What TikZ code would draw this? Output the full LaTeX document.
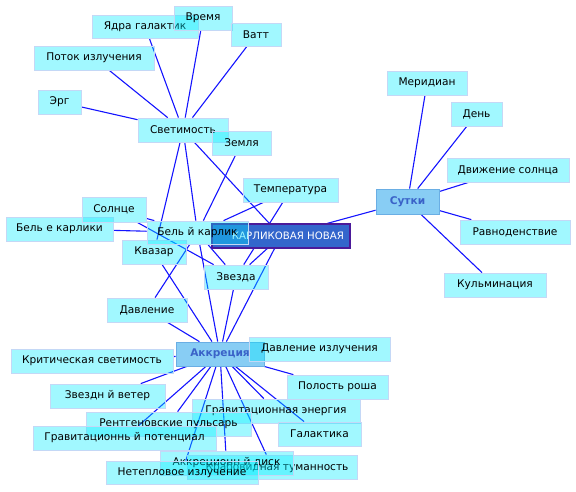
\documentclass[tikz,border=0pt]{standalone}
\usepackage{fontspec}
\setmainfont{DejaVu Sans}
\usetikzlibrary{backgrounds}
\definecolor{lineblue}{HTML}{1414FF}
\definecolor{bxfill}{HTML}{00ECFF}
\definecolor{bxborder}{HTML}{C4D8F6}
\definecolor{hubfill}{HTML}{88CDF4}
\definecolor{hubborder}{HTML}{6AAEE4}
\definecolor{hubtext}{HTML}{3A62C8}
\definecolor{knfill}{HTML}{3366CC}
\definecolor{knborder}{HTML}{4B1A9A}
\begin{document}
\begin{tikzpicture}[x=1pt,y=-1pt,
  sz/.style 2 args={minimum width=#1pt,minimum height=#2pt},
  bx/.style={draw=bxborder,line width=0.8pt,fill=bxfill,fill opacity=0.37,text opacity=1,inner sep=0pt,font=\fontsize{10.6}{12}\selectfont,text=black},
  hub/.style={draw=hubborder,line width=0.8pt,fill=hubfill,inner sep=0pt,font=\fontsize{10.6}{12}\selectfont\bfseries,text=hubtext},
  kn/.style={draw=knborder,line width=1.2pt,fill=knfill,inner sep=0pt,font=\fontsize{10.2}{12}\selectfont,text=white},
  edge/.style={draw=lineblue,line width=1.1pt}]
\useasboundingbox (0,0) rectangle (576,491);
% nodes (drawing order matters for overlaps)
\node[bx,sz={106}{23}] (yadra) at (145,26.5) {Ядра галактик};
\node[bx,sz={58}{24}] (vremya) at (203,18) {Время};
\node[bx,sz={50}{23}] (vatt) at (256,34.5) {Ватт};
\node[bx,sz={120}{24}] (potok) at (94,58) {Поток излучения};
\node[bx,sz={43}{24}] (erg) at (59.5,102) {Эрг};
\node[bx,sz={90}{24}] (svet) at (183,130) {Светимость};
\node[bx,sz={59}{24}] (zemlya) at (241.5,143) {Земля};
\node[bx,sz={80}{24}] (merid) at (427,83) {Меридиан};
\node[bx,sz={51}{24}] (den) at (476.5,114) {День};
\node[bx,sz={122}{24}] (dvizh) at (508,170) {Движение солнца};
\node[hub,sz={63}{25}] (sutki) at (407.5,201.5) {Сутки};
\node[bx,sz={110}{24}] (ravno) at (515,232) {Равноденствие};
\node[bx,sz={102}{24}] (kulm) at (495,285) {Кульминация};
\node[bx,sz={95}{24}] (temp) at (290.5,190) {Температура};
\node[bx,sz={107}{24}] (belk) at (59.5,229) {Бель е карлики};
\node[bx,sz={64}{25}] (solnce) at (114,209.5) {Солнце};
\node[kn,sz={138}{24}] (kn) at (281,236) {\hspace*{14pt}КАРЛИКОВАЯ НОВАЯ};
\node[bx,sz={64}{24}] (kvazar) at (154,252) {Квазар};
\node[bx,sz={101}{23}] (bel) at (197.5,232.5) {Бель й карлик};
\node[bx,sz={64}{24}] (zvezda) at (236,277) {Звезда};
\node[bx,sz={80}{24}] (davl) at (147,310) {Давление};
\node[hub,sz={88}{24}] (akkr) at (220,354) {Аккреция};
\node[bx,sz={141}{24}] (davlizl) at (319.5,349) {Давление излучения};
\node[bx,sz={162}{24}] (krit) at (92,361) {Критическая светимость};
\node[bx,sz={101}{24}] (rosh) at (337.5,387) {Полость роша};
\node[bx,sz={115}{24}] (veter) at (107.5,396) {Звездн й ветер};
\node[bx,sz={168}{24}] (grener) at (276,411) {Гравитационная энергия};
\node[bx,sz={165}{24}] (rentg) at (168.5,424) {Рентгеновские пульсарь};
\node[bx,sz={183}{24}] (grpot) at (124.5,438) {Гравитационнь й потенциал};
\node[bx,sz={83}{24}] (galak) at (319.5,434) {Галактика};
\node[bx,sz={170}{24}] (krab) at (272,467) {\hspace*{10pt}Крабовидная туманность};
\node[bx,sz={133}{24}] (disk) at (226.5,463) {Аккреционн й диск};
\node[bx,sz={152}{23}] (neteplo) at (182,472.5) {Нетепловое излучение};
% connectors
\begin{scope}[on background layer]
\draw[edge] (svet) -- (yadra);
\draw[edge] (svet) -- (vremya);
\draw[edge] (svet) -- (vatt);
\draw[edge] (svet) -- (potok);
\draw[edge] (svet) -- (erg);
\draw[edge] (svet) -- (kvazar);
\draw[edge] (svet) -- (bel);
\draw[edge] (svet) -- (kn);
\draw[edge] (zemlya) -- (bel);
\draw[edge] (temp) -- (bel);
\draw[edge] (temp) -- (zvezda);
\draw[edge] (solnce) -- (bel);
\draw[edge] (solnce) -- (zvezda);
\draw[edge] (belk) -- (bel);
\draw[edge] (bel) -- (zvezda);
\draw[edge] (bel) -- (davl);
\draw[edge] (bel) -- (akkr);
\draw[edge] (kn) -- (sutki);
\draw[edge] (kn) -- (zvezda);
\draw[edge] (kn) -- (akkr);
\draw[edge] (sutki) -- (merid);
\draw[edge] (sutki) -- (den);
\draw[edge] (sutki) -- (dvizh);
\draw[edge] (sutki) -- (ravno);
\draw[edge] (sutki) -- (kulm);
\draw[edge] (kvazar) -- (akkr);
\draw[edge] (zvezda) -- (akkr);
\draw[edge] (davl) -- (akkr);
\draw[edge] (akkr) -- (davlizl);
\draw[edge] (akkr) -- (krit);
\draw[edge] (akkr) -- (rosh);
\draw[edge] (akkr) -- (veter);
\draw[edge] (akkr) -- (grener);
\draw[edge] (akkr) -- (rentg);
\draw[edge] (akkr) -- (grpot);
\draw[edge] (akkr) -- (galak);
\draw[edge] (akkr) -- (krab);
\draw[edge] (akkr) -- (disk);
\draw[edge] (akkr) -- (neteplo);
\end{scope}
\end{tikzpicture}
\end{document}
